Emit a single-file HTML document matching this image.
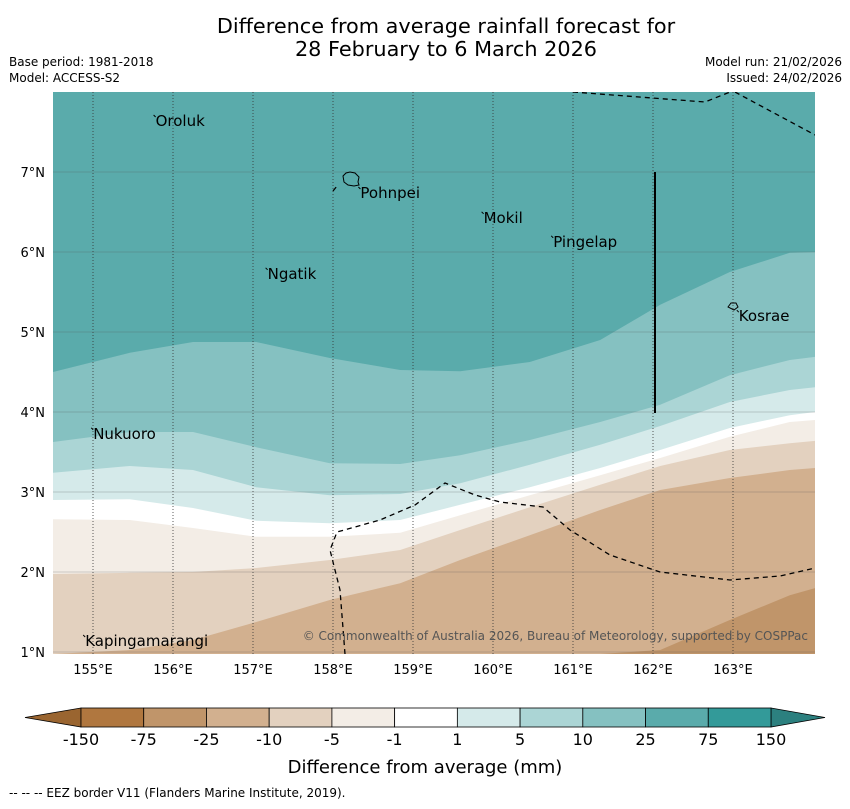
<!DOCTYPE html>
<html><head><meta charset="utf-8"><style>
body{margin:0;background:#fff;font-family:"Liberation Sans","DejaVu Sans",sans-serif;}
svg text{font-family:"DejaVu Sans","Liberation Sans",sans-serif;}
</style></head><body>
<svg id="c" width="850" height="804" xmlns="http://www.w3.org/2000/svg">
<text x="446" y="33" font-size="20.8" text-anchor="middle">Difference from average rainfall forecast for</text>
<text x="446" y="56" font-size="20.8" text-anchor="middle">28 February to 6 March 2026</text>
<text x="9" y="66" font-size="12">Base period: 1981-2018</text>
<text x="9" y="82" font-size="12">Model: ACCESS-S2</text>
<text x="842" y="66" font-size="12" text-anchor="end">Model run: 21/02/2026</text>
<text x="842" y="82" font-size="12" text-anchor="end">Issued: 24/02/2026</text>
<g id="map"></g>
<g id="cb"></g>
<text x="425" y="773" font-size="18" text-anchor="middle">Difference from average (mm)</text>
<text x="9" y="797" font-size="12">--  --  -- EEZ border V11 (Flanders Marine Institute, 2019).</text>
</svg>
<script>
const lons=[154.5,155.46,156.25,157.04,157.96,158.84,159.59,160.46,161.34,162.09,162.96,163.71,164.03];
const b1=[4.5,4.74,4.875,4.875,4.675,4.525,4.51,4.625,4.9,5.34,5.75,5.99,6.0];
const b2=[3.625,3.75,3.75,3.56,3.36,3.35,3.46,3.65,3.875,4.09,4.46,4.65,4.69];
const b3=[3.24,3.325,3.275,3.06,2.96,2.975,3.11,3.34,3.59,3.825,4.125,4.275,4.31];
const b4=[2.9,2.91,2.8,2.64,2.61,2.65,2.84,3.06,3.3,3.525,3.8,3.96,4.0];
const b5=[2.66,2.65,2.55,2.44,2.44,2.49,2.71,2.96,3.21,3.425,3.69,3.875,3.9];
const b6=[1.975,1.99,2.0,2.05,2.15,2.275,2.525,2.81,3.09,3.325,3.525,3.61,3.64];
const b7=[0.975,1.025,1.15,1.375,1.65,1.86,2.15,2.46,2.775,3.025,3.175,3.275,3.3];
const b8=[0.975,0.975,0.975,0.975,0.975,0.975,0.975,0.975,0.975,1.025,1.4,1.71,1.8];
const lonTicks=[155,156,157,158,159,160,161,162,163];
const latTicks=[1,2,3,4,5,6,7];
const cbLabels=["-150","-75","-25","-10","-5","-1","1","5","10","25","75","150"];
const cbColors=["#b0773f","#c0956a","#d2b08f","#e3d1bf","#f3ede6","#ffffff","#d5eaea","#abd5d5","#85c1c1","#5aabab","#339a99"];
const islands=[["Oroluk",155.77,7.65],["Pohnpei",158.33,6.75],["Mokil",159.87,6.44],["Pingelap",160.74,6.14],["Ngatik",157.17,5.74],["Kosrae",163.06,5.21],["Nukuoro",154.99,3.74],["Kapingamarangi",154.89,1.15]];
const NS="http://www.w3.org/2000/svg";
const X0=53,X1=815,Y0=92,Y1=654;
const xs=l=>93+(l-155)*80, ys=a=>172-(a-7)*80;
function el(t,a,p){const e=document.createElementNS(NS,t);for(const k in a)e.setAttribute(k,a[k]);p.appendChild(e);return e;}
const map=document.getElementById('map');
const cp=el('clipPath',{id:'clip'},map);el('rect',{x:X0,y:Y0,width:X1-X0,height:Y1-Y0},cp);
const g=el('g',{'clip-path':'url(#clip)'},map);
const bg=el('rect',{x:X0,y:Y0,width:X1-X0,height:Y1-Y0,fill:'#5aabab'},g);


const bands=[[b1,'#85c1c1','band-10-25'],[b2,'#abd5d5','band-5-10'],[b3,'#d5eaea','band-1-5'],[b4,'#ffffff','band-neutral'],[b5,'#f3ede6','band-minus1-5'],[b6,'#e3d1bf','band-minus5-10'],[b7,'#d2b08f','band-minus10-25'],[b8,'#c0956a','band-minus25-75']];
bands.forEach(([b,c,n])=>{
 let d='M'+(X0-5)+','+(Y1+5);
 b.forEach((v,i)=>{d+=' L'+xs(lons[i]).toFixed(1)+','+ys(v).toFixed(1);});
 d+=' L'+(X1+5)+','+ys(b[b.length-1]).toFixed(1)+' L'+(X1+5)+','+(Y1+5)+'Z';
 const p=el('path',{d:d,fill:c},g);
 
 
});
lonTicks.forEach(l=>{const x=xs(l);
 const ln=el('line',{x1:x,y1:Y0,x2:x,y2:Y1,stroke:'#333',"stroke-width":0.8,"stroke-dasharray":"1,2"},g);
 
 
 const t=el('text',{x:x,y:674,"font-size":13,"text-anchor":"middle"},map);t.textContent=l+'°E';
 
 
});
latTicks.forEach(a=>{const y=ys(a);
 const ln=el('line',{x1:X0,y1:y,x2:X1,y2:y,stroke:'#555',"stroke-width":0.5,opacity:0.5},g);
 
 
 const t=el('text',{x:45,y:y+5,"font-size":13,"text-anchor":"end"},map);t.textContent=a+'°N';
 
 
});
const eez=[[[573,92],[705,102],[735,90]],[[735,92],[815,135]],[[345,654],[340,590],[330,550],[337,532],[380,520],[415,505],[445,483],[475,495],[500,502],[543,507],[570,530],[610,555],[660,572],[730,580],[780,576],[815,568]],[[333,191],[337,186]]];
eez.forEach(pts=>{const e=el('polyline',{points:pts.map(p=>p.join(',')).join(' '),fill:'none',stroke:'#000',"stroke-width":1.3,"stroke-dasharray":"5,4"},g);
 
 });
const vl=el('line',{x1:655,y1:172,x2:655,y2:413,stroke:'#000',"stroke-width":2},g);


el('path',{d:'M343,176 l3,-3 l4,-1 l5,1 l4,4 l-1,5 l1,3 l-5,1 l-6,-1 l-4,-3z',fill:'none',stroke:'#000'},g);
el('path',{d:'M728,307 l3,-4 l5,0 l2,4 l-4,3z',fill:'none',stroke:'#000'},g);
islands.forEach(([n,lo,la])=>{const x=xs(lo),y=ys(la);
 el('line',{x1:x-1,y1:y-5,x2:x+1,y2:y-3,stroke:'#000'},g);
 const t=el('text',{x:x+1,y:y+6,"font-size":15},g);t.textContent=n;
 
 });
const cr=el('text',{x:808,y:640,"font-size":12,"text-anchor":"end",fill:'#555'},g);cr.textContent='© Commonwealth of Australia 2026, Bureau of Meteorology, supported by COSPPac';


const cb=document.getElementById('cb');
const cx0=81,cw=(771-81)/cbColors.length,cy=708,ch=19;
el('polygon',{points:`${cx0},${cy} 25,${cy+ch/2} ${cx0},${cy+ch}`,fill:'#9a6530',stroke:'#000',"stroke-width":0.8},cb);
el('polygon',{points:`771,${cy} 825,${cy+ch/2} 771,${cy+ch}`,fill:'#2c807f',stroke:'#000',"stroke-width":0.8},cb);
cbColors.forEach((c,i)=>{const r=el('rect',{x:cx0+i*cw,y:cy,width:cw,height:ch,fill:c,stroke:'#000',"stroke-width":0.8},cb);
 
 });
cbLabels.forEach((l,i)=>{const t=el('text',{x:cx0+i*cw,y:745,"font-size":16,"text-anchor":"middle"},cb);t.textContent=l;
 
 });
</script>
</body></html>
